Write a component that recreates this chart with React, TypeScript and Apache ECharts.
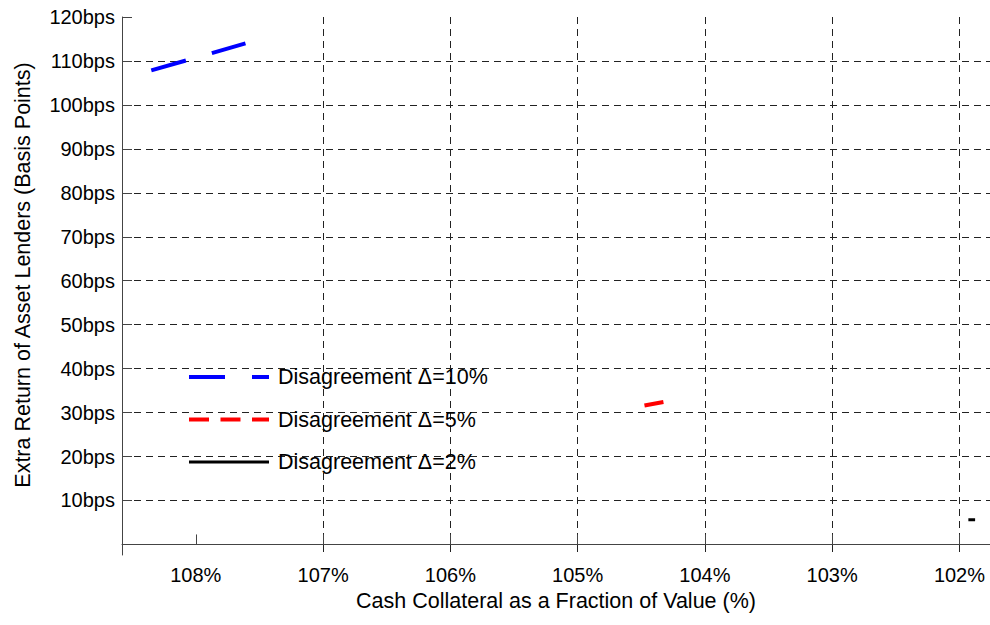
import React, { useEffect, useRef } from 'react';
import * as echarts from 'echarts';

const xTicks = [102, 103, 104, 105, 106, 107, 108];
const yTicks = [10, 20, 30, 40, 50, 60, 70, 80, 90, 100, 110, 120];
const seriesNames = ['Disagreement Δ=10%', 'Disagreement Δ=5%', 'Disagreement Δ=2%'];
const collat10 = [108.35, 107.98, 107.61];
const extra10 = [107.85, 110.9, 114.0];
const collat5 = [104.475, 104.326];
const extra5 = [31.6, 32.4];
const collat2 = [101.93, 101.877];
const extra2 = [5.6, 5.6];

const FONT = '"Liberation Sans", Arial, Helvetica, sans-serif';

const zip = (xs: number[], ys: number[]) => xs.map((x, i) => [x, ys[i]]);

export default function App() {
  const ref = useRef<HTMLDivElement>(null);
  useEffect(() => {
    if (!ref.current) return;
    const chart = echarts.init(ref.current, null, { renderer: 'svg' });
    const gridLine = {
      show: true,
      showMaxLine: false,
      lineStyle: { color: '#222', width: 1, type: [7, 5] },
    };
    chart.setOption({
      animation: false,
      backgroundColor: '#fff',
      textStyle: { fontFamily: FONT, color: '#000' },
      grid: { left: 122, top: 17, right: 0, bottom: 70, containLabel: false },
      legend: {
        orient: 'vertical',
        left: 187,
        top: 366,
        padding: 0,
        itemWidth: 80,
        itemHeight: 20,
        itemGap: 20.5,
        data: seriesNames,
        itemStyle: { opacity: 0 },
        lineStyle: { width: 'inherit' },
        textStyle: { fontFamily: FONT, fontSize: 21.5, color: '#000', padding: [0, 0, 0, 4] },
      },
      xAxis: {
        type: 'value',
        inverse: true,
        min: 101.76,
        max: 108.58,
        name: 'Cash Collateral as a Fraction of Value (%)',
        nameLocation: 'middle',
        nameGap: 34,
        nameTextStyle: { fontFamily: FONT, fontSize: 21.5, color: '#000' },
        axisLine: { show: true, lineStyle: { color: '#444', width: 1 } },
        axisTick: { show: true, inside: true, length: 10, customValues: xTicks, lineStyle: { color: '#444' } },
        axisLabel: {
          customValues: xTicks,
          formatter: (v: number) => `${v}%`,
          fontFamily: FONT,
          fontSize: 20,
          color: '#000',
          margin: 10,
        },
        splitLine: gridLine,
      },
      yAxis: {
        type: 'value',
        min: -2.4,
        max: 120,
        name: 'Extra Return of Asset Lenders (Basis Points)',
        nameLocation: 'middle',
        nameGap: 88,
        nameTextStyle: { fontFamily: FONT, fontSize: 21.5, color: '#000', padding: [0, 0, 0, 22] },
        axisLine: { show: true, lineStyle: { color: '#444', width: 1 } },
        axisTick: { show: true, inside: true, length: 10, customValues: yTicks, lineStyle: { color: '#444' } },
        axisLabel: {
          customValues: yTicks,
          formatter: (v: number) => `${v}bps`,
          fontFamily: FONT,
          fontSize: 20,
          color: '#000',
          margin: 7,
        },
        splitLine: gridLine,
      },
      series: [
        {
          name: seriesNames[0],
          type: 'line',
          data: zip(collat10, extra10),
          symbol: 'none',
          color: '#0000ff',
          lineStyle: { color: '#0000ff', width: 4, type: [36, 27] },
        },
        {
          name: seriesNames[1],
          type: 'line',
          data: zip(collat5, extra5),
          symbol: 'none',
          color: '#ff0000',
          lineStyle: { color: '#ff0000', width: 4, type: [20, 11.5] },
        },
        {
          name: seriesNames[2],
          type: 'line',
          data: zip(collat2, extra2),
          symbol: 'none',
          color: '#000000',
          lineStyle: { color: '#000000', width: 3, type: 'solid' },
        },
      ],
    });
    return () => chart.dispose();
  }, []);
  return (
    <div
      ref={ref}
      style={{ position: 'fixed', left: 0, top: 0, width: 990, height: 625, background: '#fff' }}
    />
  );
}
